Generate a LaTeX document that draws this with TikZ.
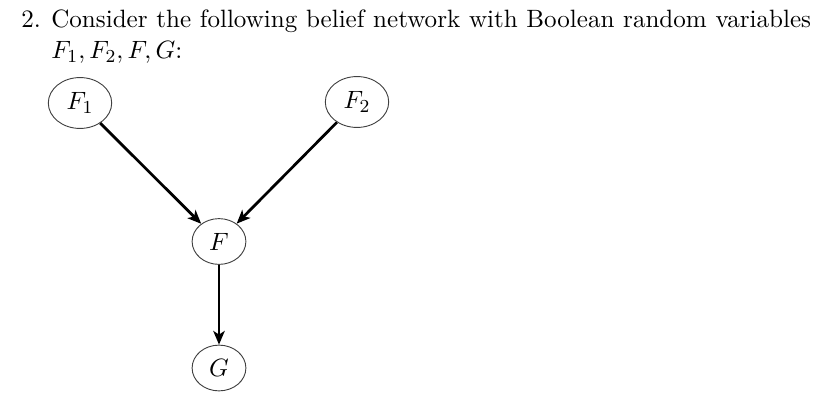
\documentclass[tikz,border=0pt]{standalone}
\usetikzlibrary{shapes.geometric, arrows.meta}
\begin{document}
\begin{tikzpicture}[x=0.437pt, y=-0.437pt, very thick, font=\fontsize{10.95}{13.4}\selectfont,
    var/.style={draw=black!75, thin, ellipse, minimum width=23.5pt, minimum height=20pt, inner xsep=3.9pt, inner ysep=3.3pt}]
\useasboundingbox (0,0) rectangle (830,416);
\node[anchor=base west, inner sep=0pt] (num) at (20,27.7) {2.};
\node[anchor=base west, inner sep=0pt, text width=332pt, align=justify] (task) at (50,27.7)
    {Consider the following belief network with Boolean random variables\linebreak $F_1, F_2, F, G$:\par};

\node[var] (f1) at (80,103) {$F_1$};
\node[var] (f2) at (357,102) {$F_2$};
\node[var] (f) at (219,241.5) {$F$};
\node[var] (g) at (219,368) {$G$};
\foreach \a/\b in {f1/f, f2/f, f/g}
{
    \draw[->, >={Stealth[length=6pt, width=5pt, inset=1.6pt]}] (\a)--(\b);
}
\end{tikzpicture}
\end{document}
